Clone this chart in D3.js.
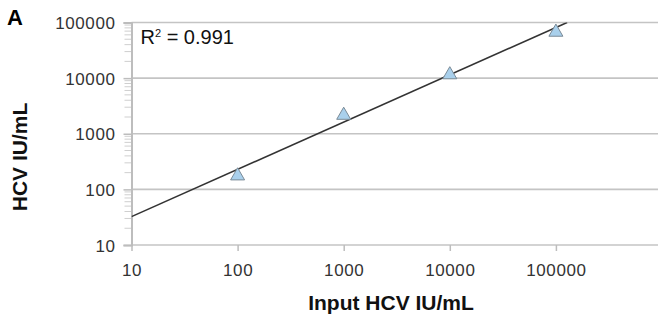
<!DOCTYPE html>
<html>
<head>
<meta charset="utf-8">
<script src="https://cdn.jsdelivr.net/npm/d3@7"></script>
<style>
  body { margin: 0; background: #fff; }
  svg { display: block; font-family: "Liberation Sans", Arial, sans-serif; }
</style>
</head>
<body>
<div id="chart"></div>
<script>
// data
var inputHCV = [100, 1000, 10000, 100000];
var measuredHCV = [175, 2150, 11500, 67000];
var fitSlope = 0.85;      // log-log regression
var fitIntercept = 0.66;
var rSquared = "0.991";
var yTicks = [10, 100, 1000, 10000, 100000];
var xTicks = [10, 100, 1000, 10000, 100000];

var width = 658, height = 314;
var margin = { top: 22.5, right: -4, bottom: 69, left: 131.5 };
var w = width - margin.left - margin.right;
var h = height - margin.top - margin.bottom;

var x = d3.scaleLog().domain([10, 1e6]).range([0, w]);
var y = d3.scaleLog().domain([10, 1e5]).range([h, 0]);

var svg = d3.select("#chart").append("svg")
  .attr("width", width)
  .attr("height", height);

var g = svg.append("g")
  .attr("transform", "translate(" + margin.left + "," + margin.top + ")");

// horizontal grid lines
g.append("g")
  .selectAll("line")
  .data(yTicks)
  .enter().append("line")
  .attr("x1", 0).attr("x2", w)
  .attr("y1", function (d) { return y(d); })
  .attr("y2", function (d) { return y(d); })
  .attr("stroke", "#c4c4c4")
  .attr("stroke-width", 1.6);

// y minor ticks
var minor = [];
yTicks.slice(0, -1).forEach(function (t) {
  for (var k = 2; k < 10; k++) minor.push(t * k);
});
g.append("g")
  .selectAll("line")
  .data(minor)
  .enter().append("line")
  .attr("x1", -7).attr("x2", 0)
  .attr("y1", function (d) { return y(d); })
  .attr("y2", function (d) { return y(d); })
  .attr("stroke", "#cfcfcf")
  .attr("stroke-width", 1);

// y axis
var yAxis = g.append("g")
  .call(d3.axisLeft(y).tickValues(yTicks).tickSize(8).tickPadding(8)
    .tickFormat(d3.format("d")));
yAxis.select(".domain").attr("stroke", "#bdbdbd").attr("stroke-width", 2);
yAxis.selectAll(".tick line").attr("stroke", "#bdbdbd").attr("stroke-width", 1.5);
yAxis.selectAll("text")
  .attr("fill", "#333")
  .attr("font-size", "17px")
  .attr("letter-spacing", "0.6px")
  .attr("dy", "0.36em");

// x axis
var xAxis = g.append("g")
  .attr("transform", "translate(0," + h + ")")
  .call(d3.axisBottom(x).tickValues(xTicks).tickSize(6).tickPadding(13)
    .tickFormat(d3.format("d")));
xAxis.select(".domain").remove();
xAxis.selectAll(".tick line").attr("stroke", "#bdbdbd").attr("stroke-width", 1.5);
xAxis.selectAll("text")
  .attr("fill", "#333")
  .attr("font-size", "17px")
  .attr("letter-spacing", "0.6px");

// regression line, clipped to the plot area
svg.append("clipPath").attr("id", "plotclip")
  .append("rect").attr("x", 0).attr("y", 0).attr("width", w).attr("height", h);

var fit = function (v) { return Math.pow(10, fitIntercept + fitSlope * Math.log10(v)); };
var xEnd = Math.pow(10, (5 - fitIntercept) / fitSlope);
g.append("line")
  .attr("clip-path", "url(#plotclip)")
  .attr("x1", x(10)).attr("y1", y(fit(10)))
  .attr("x2", x(xEnd)).attr("y2", y(fit(xEnd)))
  .attr("stroke", "#333")
  .attr("stroke-width", 1.6);

// triangle markers
var tri = d3.symbol().type(d3.symbolTriangle).size(85);
g.selectAll(".pt")
  .data(inputHCV)
  .enter().append("path")
  .attr("class", "pt")
  .attr("d", tri)
  .attr("transform", function (d, i) {
    return "translate(" + x(d) + "," + y(measuredHCV[i]) + ")";
  })
  .attr("fill", "#a9d0ec")
  .attr("stroke", "#7a8a96")
  .attr("stroke-width", 1);

// R squared
var r2 = g.append("text")
  .attr("x", 9).attr("y", 21)
  .attr("font-size", "20px")
  .attr("fill", "#111");
r2.append("tspan").text("R");
r2.append("tspan").attr("font-size", "11px").attr("dy", "-7").text("2");
r2.append("tspan").attr("dy", "7").text(" = " + rSquared);

// axis titles
svg.append("text")
  .attr("x", 391)
  .attr("y", 310)
  .attr("text-anchor", "middle")
  .attr("font-weight", "bold")
  .attr("font-size", "21px")
  .attr("fill", "#111")
  .text("Input HCV IU/mL");

svg.append("text")
  .attr("transform", "translate(27,157) rotate(-90)")
  .attr("text-anchor", "middle")
  .attr("font-weight", "bold")
  .attr("font-size", "21px")
  .attr("fill", "#111")
  .text("HCV IU/mL");

// panel letter
svg.append("text")
  .attr("x", 7).attr("y", 25)
  .attr("font-weight", "bold")
  .attr("font-size", "22px")
  .attr("fill", "#000")
  .text("A");
</script>
</body>
</html>
